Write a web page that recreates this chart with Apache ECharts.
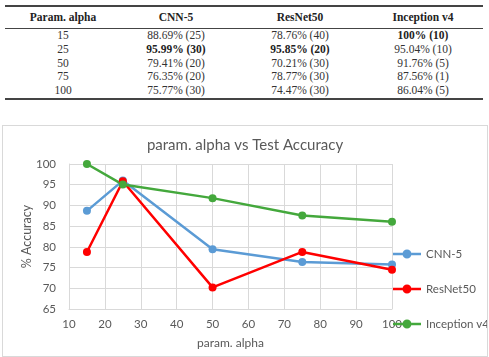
<!DOCTYPE html>
<html>
<head>
<meta charset="utf-8">
<script src="https://cdn.jsdelivr.net/npm/echarts@6/dist/echarts.min.js"></script>
<style>
	body { margin: 0; background: #fff; width: 489px; height: 357px; position: relative; overflow: hidden; }
	.rule { position: absolute; left: 5px; width: 478px; background: #444; }
	.cell { position: absolute; width: 130px; text-align: center; font-family: 'Liberation Serif', serif; font-size: 11.5px; color: #333; line-height: 14px; }
	.head { font-weight: bold; color: #222; }
	#chart { position: absolute; left: 2px; top: 125px; width: 484px; height: 230px; border: 1px solid #d9d9d9; }
</style>
</head>
<body>
<div id="table"></div>
<div id="chart"></div>
<script>
// data
const alphas = [15, 25, 50, 75, 100]
const headers = ['Param. alpha', 'CNN-5', 'ResNet50', 'Inception v4']
const cnnAcc = [88.69, 95.99, 79.41, 76.35, 75.77]
const cnnEpochs = [25, 30, 20, 20, 30]
const resnetAcc = [78.76, 95.85, 70.21, 78.77, 74.47]
const resnetEpochs = [40, 20, 30, 30, 30]
const inceptionAcc = [100, 95.04, 91.76, 87.56, 86.04]
const inceptionEpochs = [10, 10, 5, 1, 5]
const xTicks = [10, 20, 30, 40, 50, 60, 70, 80, 90, 100]

// table
const table = document.getElementById('table')
const colCenters = [63, 176, 300, 423]
const addCell = (text, x, y, bold) => {
	const d = document.createElement('div')
	d.className = 'cell' + (bold ? ' head' : '')
	d.style.left = (x - 65) + 'px'
	d.style.top = (y - 7) + 'px'
	d.textContent = text
	table.appendChild(d)
}
const addRule = (y, h) => {
	const r = document.createElement('div')
	r.className = 'rule'
	r.style.top = y + 'px'
	r.style.height = h + 'px'
	table.appendChild(r)
}
addRule(5, 1.5)
addRule(27.5, 0.8)
addRule(98, 1.5)
headers.forEach((h, i) => addCell(h, colCenters[i], 16.5, true))
const cols = [[cnnAcc, cnnEpochs], [resnetAcc, resnetEpochs], [inceptionAcc, inceptionEpochs]]
const rowY = [34.5, 48.5, 62.5, 76, 90]
alphas.forEach((a, r) => {
	addCell(String(a), colCenters[0], rowY[r], false)
	cols.forEach(([acc, ep], c) => {
		const best = acc[r] === Math.max(...acc)
		addCell(acc[r] + '% (' + ep[r] + ')', colCenters[c + 1], rowY[r], best)
	})
})

// chart
const myChart = echarts.init(document.getElementById('chart'))
const toPairs = (vals) => alphas.map((a, i) => [a, vals[i]])
const gray = '#595959'
const font = 'Lato'
// legend icon: thick line with a dot in the middle
const lineDot = 'path://M0,3.25H9.6V5.75H0Z M18.4,3.25H28V5.75H18.4Z M14,0A4.5,4.5,0,1,1,14,9A4.5,4.5,0,1,1,14,0Z'
const mkSeries = (name, vals, color) => ({
	name: name,
	type: 'line',
	data: toPairs(vals),
	symbol: 'circle',
	symbolSize: 8,
	lineStyle: { width: 2.5, color: color },
	itemStyle: { color: color },
	emphasis: { disabled: true },
	animation: false
})
myChart.setOption({
	title: {
		text: 'param. alpha vs Test Accuracy',
		left: 'center',
		top: 12,
		padding: 0,
		textStyle: { fontFamily: font, fontSize: 15, fontWeight: 'normal', color: gray }
	},
	grid: { left: 66, right: 95, top: 38, bottom: 47 },
	legend: {
		orient: 'vertical',
		left: 390,
		top: 122,
		padding: 0,
		itemGap: 23,
		itemWidth: 28,
		itemHeight: 9,
		icon: lineDot,
		textStyle: { fontFamily: font, fontSize: 11.5, color: gray },
		data: ['CNN-5', 'ResNet50', 'Inception v4']
	},
	xAxis: {
		type: 'value',
		min: 10,
		max: 100,
		interval: 10,
		name: 'param. alpha',
		nameLocation: 'middle',
		nameGap: 28,
		nameMoveOverlap: false,
		nameTextStyle: { fontFamily: font, fontSize: 12, color: gray },
		axisLine: { lineStyle: { color: '#d9d9d9' } },
		axisTick: { show: false },
		axisLabel: { fontFamily: font, fontSize: 11.5, color: gray, margin: 9, formatter: v => xTicks.includes(v) ? String(v) : '' },
		splitLine: { lineStyle: { color: '#d9d9d9' } }
	},
	yAxis: {
		type: 'value',
		min: 65,
		max: 100,
		interval: 5,
		name: '% Accuracy',
		nameLocation: 'middle',
		nameGap: 36,
		nameMoveOverlap: false,
		nameTextStyle: { fontFamily: font, fontSize: 12.5, color: gray },
		axisLine: { show: true, lineStyle: { color: '#d9d9d9' } },
		axisTick: { show: false },
		axisLabel: { fontFamily: font, fontSize: 11.5, color: gray, margin: 13 },
		splitLine: { lineStyle: { color: '#d9d9d9' } }
	},
	series: [
		mkSeries('CNN-5', cnnAcc, '#5b9bd5'),
		mkSeries('ResNet50', resnetAcc, '#ff0000'),
		mkSeries('Inception v4', inceptionAcc, '#44a83c')
	]
})
</script>
</body>
</html>
